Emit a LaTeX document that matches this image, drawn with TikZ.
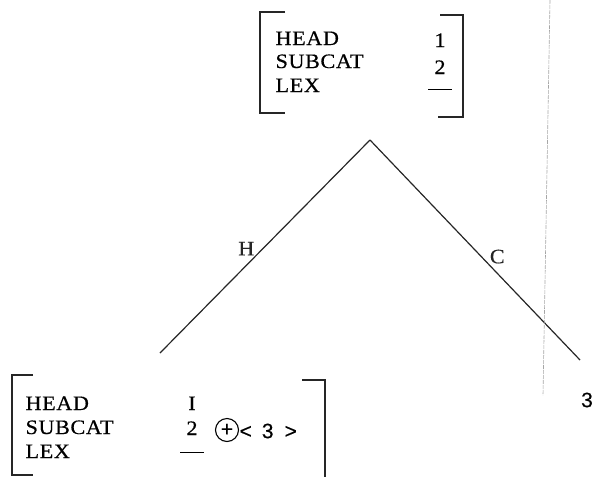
\documentclass[tikz,border=0pt]{standalone}
\usepackage{fontspec}
\setmainfont[FakeStretch=1.08, LetterSpace=3, FakeBold=0.5]{Liberation Serif}
\setsansfont[FakeBold=0.3]{Liberation Sans}
\usetikzlibrary{positioning}

\begin{document}
\begin{tikzpicture}[x=1pt, y=-1pt, line width=1.2pt,
    attr/.style={anchor=base west, inner sep=0pt, font=\fontsize{20.5}{22}\selectfont},
    val/.style={anchor=base, inner sep=0pt, font=\fontsize{20.5}{22}\selectfont},
    nil/.style={anchor=base, inner sep=0pt},
    lbl/.style={inner sep=0pt, font=\fontsize{20.5}{22}\selectfont},
    brk/.style={line width=1.2pt, black!85}]
    \useasboundingbox (0,0) rectangle (594,477);

    % Mother feature structure
    \node [attr] (mhead) at (275,45)  {HEAD};
    \node [attr] (msub)  at (275,68)  {SUBCAT};
    \node [attr] (mlex)  at (275,92)  {LEX};
    \node [val]  (mv1)   at (440,47)  {1};
    \node [val]  (mv2)   at (440,74)  {2};
    \node [nil]  (mv3)   at (440,90)  {\rule{24pt}{0.9pt}};
    \draw [brk] (285,12) -- (260,12) -- (260,113) -- (285,113);
    \draw [brk] (440,15) -- (463,15) -- (463,117) -- (438,117);

    % Head daughter feature structure
    \node [attr] (dhead) at (25,410)  {HEAD};
    \node [attr] (dsub)  at (25,434)  {SUBCAT};
    \node [attr] (dlex)  at (25,458)  {LEX};
    \node [val]  (dv1)   at (192,410) {I};
    \node [val]  (dv2)   at (192,435) {2};
    \node [nil]  (dv3)   at (192,453) {\rule{24pt}{0.9pt}};
    \node [draw, circle, line width=1.1pt, minimum size=23pt, inner sep=0pt,
           font=\sffamily\fontsize{21}{21}\selectfont] (app) at (227,430) {+};
    \node [anchor=west, inner sep=0pt, font=\sffamily\fontsize{21}{22}\selectfont]
          (lst) at (239,431) {<\hspace{10pt}3\hspace{11pt}>};
    \draw [brk] (33,375) -- (12,375) -- (12,475) -- (33,475);
    \draw [brk] (302,380) -- (325,380) -- (325,477);

    % Tree
    \coordinate (top) at (370,140);
    \coordinate (hd)  at (160,353);
    \coordinate (cmp) at (580,360);
    \node [inner sep=0pt, font=\sffamily\fontsize{21}{22}\selectfont] (three) at (587,400) {3};

    % Paths
    \draw [black!85] (top) -- node [lbl, pos=0.51, left=8pt] (hlab) {H} (hd);
    \draw [black!85] (top) -- node [lbl, pos=0.53, right=8pt] (clab) {C} (cmp);

    % margin line
    \draw [gray!70, line width=0.6pt, dash pattern=on 4pt off 1pt] (550,0) -- (543,395);
\end{tikzpicture}
\end{document}
